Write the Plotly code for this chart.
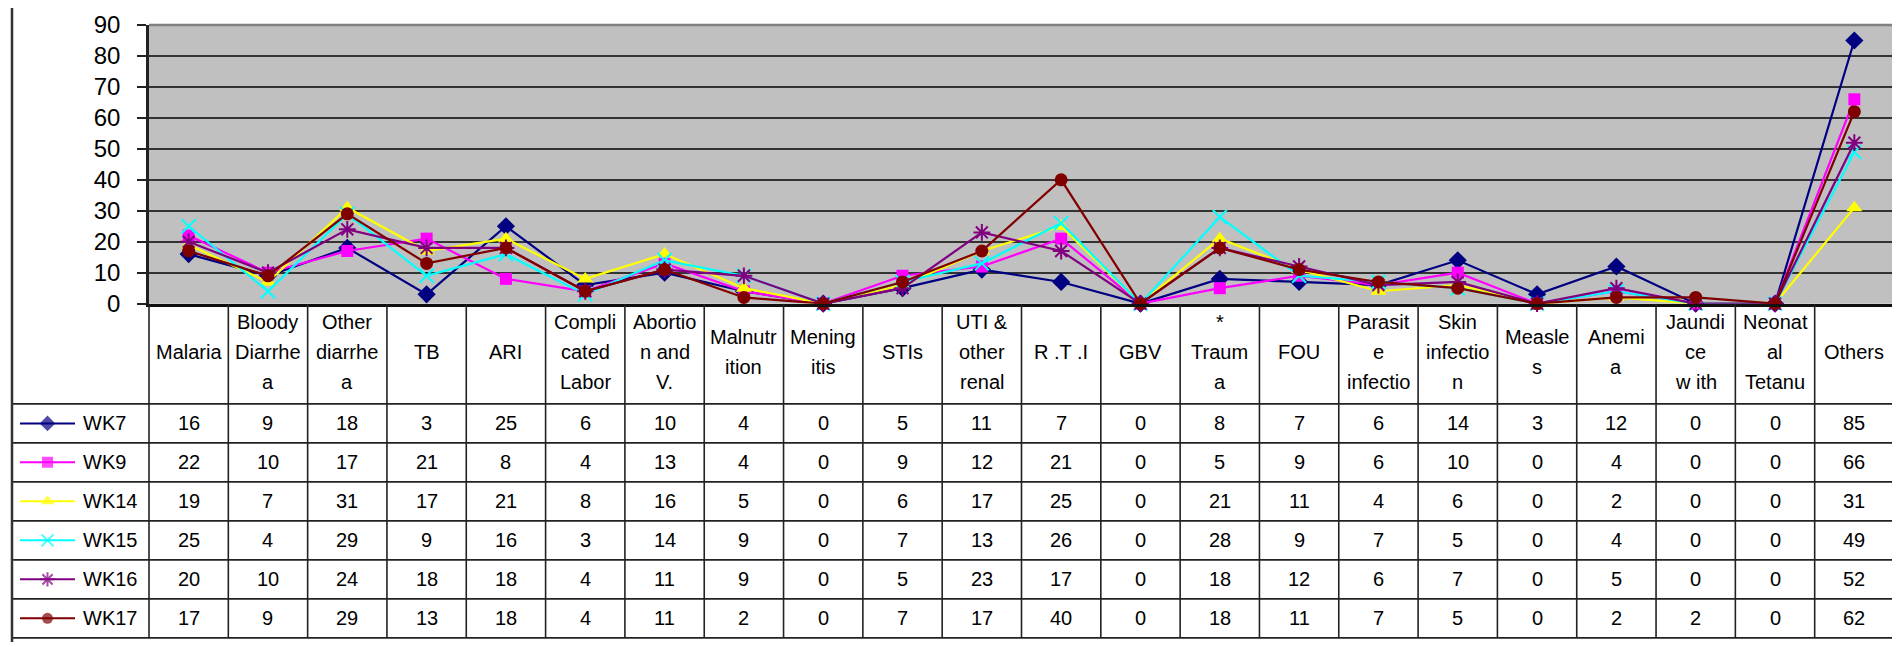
import plotly.graph_objects as go

# ---------------- data ----------------
categories = [
    "Malaria", "Bloody<br>Diarrhe<br>a", "Other<br>diarrhe<br>a", "TB", "ARI",
    "Compli<br>cated<br>Labor", "Abortio<br>n and<br>V.", "Malnutr<br>ition",
    "Mening<br>itis", "STIs", "UTI &<br>other<br>renal", "R .T .I", "GBV",
    "*<br>Traum<br>a", "FOU", "Parasit<br>e<br>infectio", "Skin<br>infectio<br>n",
    "Measle<br>s", "Anemi<br>a", "Jaundi<br>ce<br>w ith", "Neonat<br>al<br>Tetanu",
    "Others",
]
series_names = ["WK7", "WK9", "WK14", "WK15", "WK16", "WK17"]
wk7 = [16, 9, 18, 3, 25, 6, 10, 4, 0, 5, 11, 7, 0, 8, 7, 6, 14, 3, 12, 0, 0, 85]
wk9 = [22, 10, 17, 21, 8, 4, 13, 4, 0, 9, 12, 21, 0, 5, 9, 6, 10, 0, 4, 0, 0, 66]
wk14 = [19, 7, 31, 17, 21, 8, 16, 5, 0, 6, 17, 25, 0, 21, 11, 4, 6, 0, 2, 0, 0, 31]
wk15 = [25, 4, 29, 9, 16, 3, 14, 9, 0, 7, 13, 26, 0, 28, 9, 7, 5, 0, 4, 0, 0, 49]
wk16 = [20, 10, 24, 18, 18, 4, 11, 9, 0, 5, 23, 17, 0, 18, 12, 6, 7, 0, 5, 0, 0, 52]
wk17 = [17, 9, 29, 13, 18, 4, 11, 2, 0, 7, 17, 40, 0, 18, 11, 7, 5, 0, 2, 2, 0, 62]
y_tick_vals = [0, 10, 20, 30, 40, 50, 60, 70, 80, 90]

series_values = [wk7, wk9, wk14, wk15, wk16, wk17]

# ---------------- styles ----------------
colors = ["#000080", "#FF00FF", "#FFFF00", "#00FFFF", "#800080", "#800000"]
symbols = ["diamond", "square", "triangle-up", "x-thin-open", "asterisk-open", "circle"]
msizes = [14, 12, 14, 14, 14, 13]
lsizes = [12, 11, 12, 12, 12, 11]

FONT = "Liberation Sans, Arial, sans-serif"
W, H = 1900, 647
ML, MR, MT, MB = 4, 14, 17.3, 2
PLOT_LEFT = 141.0
PLOT_BOTTOM = 301.7
HEADER_BOTTOM = 404.0
ROW_H = 39.8

paper_w = W - ML - MR
paper_h = H - MT - MB
x_dom0 = (PLOT_LEFT - ML) / paper_w
y_split = (H - MB - PLOT_BOTTOM) / paper_h
table_units = (H - MB - PLOT_BOTTOM) / ROW_H
header_units = (HEADER_BOTTOM - PLOT_BOTTOM) / ROW_H

fig = go.Figure()

# chart lines
for name, vals, c, s, ms in zip(series_names, series_values, colors, symbols, msizes):
    open_sym = s.endswith("open")
    fig.add_trace(go.Scatter(
        x=categories, y=vals, name=name, mode="lines+markers",
        line=dict(color=c, width=2.2),
        marker=dict(symbol=s, size=ms, color=c,
                    line=dict(color=c, width=2 if open_sym else 0)),
        xaxis="x", yaxis="y", showlegend=False, cliponaxis=False,
    ))

# legend samples inside table (left column)
leg_w = PLOT_LEFT - ML
for i, (name, c, s, ms) in enumerate(zip(series_names, colors, symbols, lsizes)):
    yc = header_units + i + 0.5
    open_sym = s.endswith("open")
    fig.add_trace(go.Scatter(
        x=[8, 35.5, 63], y=[yc, yc, yc], mode="lines+markers",
        line=dict(color=c, width=2),
        marker=dict(symbol=s, size=[0, ms, 0], color=c,
                    line=dict(color=c, width=2 if open_sym else 0)),
        xaxis="x2", yaxis="y2", showlegend=False, hoverinfo="skip",
    ))

annotations = []
shapes = []

# grey plot background (chart area only)
shapes.append(dict(type="rect", xref="x domain", yref="y domain", x0=0, x1=1, y0=0, y1=1,
                   fillcolor="#C0C0C0", line=dict(width=0), layer="below"))

# header text
hdr_center = header_units / 2
for j, cat in enumerate(categories):
    lines = cat.split("<br>")
    n = len(lines)
    for li, t in enumerate(lines):
        annotations.append(dict(
            x=j, y=hdr_center, xref="x", yref="y2", text=t, showarrow=False,
            xanchor="center", yanchor="middle",
            yshift=-(li - (n - 1) / 2) * 30 + 2,
            font=dict(family=FONT, size=20, color="black"),
        ))

# values
for i, vals in enumerate(series_values):
    for j, v in enumerate(vals):
        annotations.append(dict(
            x=j, y=header_units + i + 0.5, xref="x", yref="y2", text=str(v),
            showarrow=False, xanchor="center", yanchor="middle",
            font=dict(family=FONT, size=20, color="black"),
        ))
    annotations.append(dict(
        x=(72.7 - ML) / paper_w, y=header_units + i + 0.5, xref="paper", yref="y2",
        text=series_names[i], showarrow=False, xanchor="left", yanchor="middle",
        font=dict(family=FONT, size=20, color="black"),
    ))

# table lines
TL = dict(color="#222222", width=1.6)
for i in range(7):
    yb = header_units + i
    shapes.append(dict(type="line", xref="paper", yref="y2", x0=0, x1=1, y0=yb, y1=yb, line=TL))
for k in range(1, len(categories)):
    shapes.append(dict(type="line", xref="x", yref="y2", x0=k - 0.5, x1=k - 0.5,
                       y0=0, y1=header_units + 6, line=TL))
shapes.append(dict(type="line", xref="paper", yref="y2", x0=x_dom0, x1=x_dom0,
                   y0=0, y1=header_units + 6, line=TL))
shapes.append(dict(type="line", xref="paper", yref="y2", x0=1, x1=1,
                   y0=0, y1=header_units + 6, line=TL))
# plot top border (grey)
shapes.append(dict(type="line", xref="paper", yref="paper", x0=x_dom0, x1=1, y0=1, y1=1,
                   line=dict(color="#808080", width=2.5)))
# outer chart border
shapes.append(dict(type="line", xref="paper", yref="paper", x0=0, x1=0,
                   y0=-MB / paper_h, y1=1 + MT / paper_h, line=dict(color="#333333", width=2.5)))
shapes.append(dict(type="line", xref="paper", yref="paper", x0=1, x1=1,
                   y0=-MB / paper_h, y1=1 + MT / paper_h, line=dict(color="#333333", width=2.5)))

fig.update_layout(
    width=W, height=H,
    margin=dict(l=ML, r=MR, t=MT, b=MB, pad=0),
    paper_bgcolor="white", plot_bgcolor="white",
    font=dict(family=FONT, color="black"),
    showlegend=False,
    xaxis=dict(
        type="category", domain=[x_dom0, 1], anchor="y", range=[-0.5, len(categories) - 0.5],
        showticklabels=False, ticks="", showgrid=False, zeroline=False,
        showline=True, linecolor="#111111", linewidth=2.5,
    ),
    yaxis=dict(
        domain=[y_split, 1], anchor="x", range=[0, 90], tickvals=y_tick_vals,
        ticks="outside", ticklen=9, tickwidth=1.5, tickcolor="#222222",
        tickfont=dict(family=FONT, size=24, color="black"),
        ticklabelstandoff=12,
        showgrid=True, gridcolor="#333333", gridwidth=1.7, zeroline=False,
        showline=True, linecolor="#222222", linewidth=2.5,
    ),
    yaxis2=dict(
        domain=[0, y_split], anchor="x", range=[table_units, 0],
        visible=False, showgrid=False, zeroline=False,
    ),
    xaxis2=dict(
        domain=[0, x_dom0], anchor="y2", range=[0, leg_w],
        visible=False, showgrid=False, zeroline=False,
    ),
    annotations=annotations,
    shapes=shapes,
)

fig.write_html("out.html")
